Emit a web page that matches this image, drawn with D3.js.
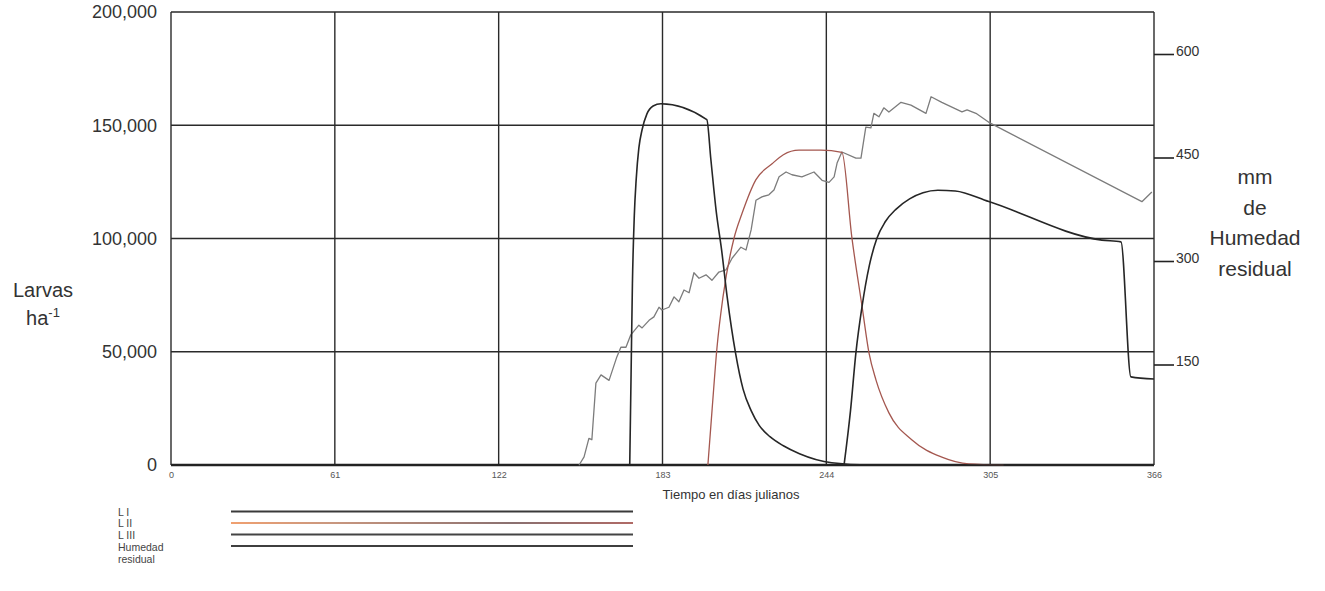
<!DOCTYPE html>
<html>
<head>
<meta charset="utf-8">
<script src="https://cdn.jsdelivr.net/npm/d3@7/dist/d3.min.js"></script>
<style>
  html, body { margin: 0; padding: 0; background: #fff; }
  svg { display: block; font-family: "Liberation Sans", Arial, sans-serif; }
</style>
</head>
<body>
<svg id="chart" width="1325" height="591"></svg>
<script>
// Julian-day ticks and axis labels
const dayTicks = [0, 61, 122, 183, 244, 305, 366];
const larvaTicks = [0, 50000, 100000, 150000, 200000];
const moistureTicks = [150, 300, 450, 600];

// Larval stage I (larvae per hectare by Julian day)
const larvaeL1 = [
  [170.8, 0], [171.3, 40000], [171.8, 80000], [172.5, 110000], [173.2, 126000],
  [174.2, 140000], [175.4, 148000], [177.2, 155000], [179.5, 158500], [182.4, 159500],
  [199.5, 152500], [201, 135000], [203, 112000], [205, 95000], [207.1, 74000],
  [210.2, 49400], [213, 33500], [216, 24000], [219, 17500], [223, 12500],
  [228, 8500], [234, 5000], [246, 1000], [260, 0], [366, 0]
];

// Larval stage II
const larvaeL2 = [
  [199.9, 0], [201.5, 25000], [203.3, 52000], [205.5, 74000], [209.6, 100000],
  [212.6, 111000], [217.8, 126000], [223.8, 133000], [228, 137000], [233.8, 139000],
  [242, 139000], [249.8, 138000], [253.5, 100500], [257.3, 70000], [259.9, 49400],
  [262.5, 37500], [267.3, 23000], [275.9, 11000], [287, 3500], [297, 500], [310, 0]
];

// Larval stage III
const larvaeL3 = [
  [250.6, 0], [253, 24000], [255, 49400], [257.3, 70000], [260, 88000],
  [262.8, 100000], [266, 107500], [270, 113000], [275, 117500], [280, 120200],
  [285.5, 121300], [292, 121000], [304.5, 116300], [346.6, 99300], [353.7, 98500],
  [357.4, 38900], [366, 38000]
];

// Residual soil moisture (mm)
const residualMoisture = [
  [151.9, 4], [153.8, 16], [155.6, 43], [156.7, 41], [158.2, 123], [160.1, 135],
  [163.1, 127], [166.0, 161], [167.5, 175], [169.4, 175], [171.2, 193], [174.2, 207],
  [175.4, 203], [178.0, 214], [179.8, 219], [181.7, 233], [182.8, 229], [185.4, 233],
  [187.3, 248], [189.1, 241], [191.0, 258], [192.9, 254], [194.7, 283], [196.6, 275],
  [199.2, 280], [201.4, 272], [204.0, 284], [206.6, 287], [208.9, 304], [212.2, 320],
  [214.1, 316], [216.0, 345], [217.8, 388], [220.0, 393], [222.6, 396], [224.5, 403],
  [226.4, 422], [229.0, 429], [231.2, 425], [234.9, 422], [239.4, 429], [242.4, 417],
  [245.0, 414], [246.9, 422], [248.0, 442], [249.8, 458], [255.0, 449], [256.9, 449],
  [258.7, 494], [260.6, 493], [261.7, 514], [263.6, 509], [265.4, 522], [267.3, 516],
  [271.8, 530], [275.5, 526], [281.1, 514], [283.0, 538], [287.0, 530], [294.5, 516],
  [296.4, 519], [299.7, 514], [304.5, 501], [361.5, 386], [365.2, 400]
];

const legendLabels = ["L I", "L II", "L III", "Humedad", "residual"];

const svg = d3.select("#chart");

const plot = { left: 171, right: 1154, top: 12, bottom: 465 };

const x = d3.scaleLinear().domain([0, 366]).range([plot.left, plot.right]);
const y = d3.scaleLinear().domain([0, 200000]).range([plot.bottom, plot.top]);
const yMoist = d3.scaleLinear().domain([0, 600]).range([468, 54]);

const gridColor = "#2a2a2a";

// Horizontal grid lines
svg.append("g")
  .selectAll("line")
  .data(larvaTicks)
  .join("line")
  .attr("x1", plot.left).attr("x2", plot.right)
  .attr("y1", d => y(d)).attr("y2", d => y(d))
  .attr("stroke", gridColor).attr("stroke-width", 1.4);

// Vertical grid lines
svg.append("g")
  .selectAll("line")
  .data(dayTicks)
  .join("line")
  .attr("x1", d => x(d)).attr("x2", d => x(d))
  .attr("y1", plot.top).attr("y2", plot.bottom)
  .attr("stroke", gridColor).attr("stroke-width", 1.4);

// Heavier baseline
svg.append("line")
  .attr("x1", plot.left).attr("x2", plot.right)
  .attr("y1", plot.bottom).attr("y2", plot.bottom)
  .attr("stroke", "#222").attr("stroke-width", 2.4);

// Left axis labels
const leftAxis = d3.axisLeft(y)
  .tickValues(larvaTicks)
  .tickFormat(d3.format(","))
  .tickSize(0)
  .tickPadding(14);
const gLeft = svg.append("g").attr("transform", `translate(${plot.left},0)`).call(leftAxis);
gLeft.select(".domain").remove();
gLeft.selectAll("text")
  .attr("font-size", 18)
  .attr("fill", "#333")
  .attr("font-family", "Liberation Sans, Arial, sans-serif");

// Bottom axis labels
const bottomAxis = d3.axisBottom(x).tickValues(dayTicks).tickSize(0).tickPadding(7);
const gBottom = svg.append("g").attr("transform", `translate(0,${plot.bottom})`).call(bottomAxis);
gBottom.select(".domain").remove();
gBottom.selectAll("text")
  .attr("font-size", 9)
  .attr("fill", "#555")
  .attr("font-family", "Liberation Sans, Arial, sans-serif");

// Right axis (residual moisture)
const rightAxis = d3.axisRight(yMoist).tickValues(moistureTicks).tickSize(20).tickPadding(2);
const gRight = svg.append("g").attr("transform", `translate(${plot.right},0)`).call(rightAxis);
gRight.select(".domain").remove();
gRight.selectAll("line").attr("stroke", "#222").attr("stroke-width", 1.6);
gRight.selectAll("text")
  .attr("font-size", 14)
  .attr("fill", "#333")
  .attr("dy", "0.1em")
  .attr("font-family", "Liberation Sans, Arial, sans-serif");

// Series lines
const larvaLine = d3.line().x(d => x(d[0])).y(d => y(d[1])).curve(d3.curveMonotoneX);
const moistLine = d3.line().x(d => x(d[0])).y(d => yMoist(d[1]));

svg.append("path").datum(residualMoisture)
  .attr("d", moistLine)
  .attr("fill", "none").attr("stroke", "#7c7c7c").attr("stroke-width", 1.3)
  .attr("stroke-linejoin", "round");

svg.append("path").datum(larvaeL2)
  .attr("d", larvaLine)
  .attr("fill", "none").attr("stroke", "#a4574f").attr("stroke-width", 1.3);

svg.append("path").datum(larvaeL1)
  .attr("d", larvaLine)
  .attr("fill", "none").attr("stroke", "#262626").attr("stroke-width", 1.6);

svg.append("path").datum(larvaeL3)
  .attr("d", larvaLine)
  .attr("fill", "none").attr("stroke", "#262626").attr("stroke-width", 1.6);

// Axis titles
svg.append("text")
  .attr("x", 43).attr("y", 297)
  .attr("text-anchor", "middle")
  .attr("font-size", 20).attr("fill", "#333")
  .text("Larvas");
const ha = svg.append("text")
  .attr("x", 43).attr("y", 325)
  .attr("text-anchor", "middle")
  .attr("font-size", 20).attr("fill", "#333");
ha.append("tspan").text("ha");
ha.append("tspan").attr("dy", -8).attr("font-size", 13).text("-1");

const rightTitleLines = ["mm", "de", "Humedad", "residual"];
svg.append("g")
  .selectAll("text")
  .data(rightTitleLines)
  .join("text")
  .attr("x", 1255)
  .attr("y", (d, i) => 184 + i * 30.5)
  .attr("text-anchor", "middle")
  .attr("font-size", 21).attr("fill", "#333")
  .text(d => d);

svg.append("text")
  .attr("x", 731).attr("y", 499)
  .attr("text-anchor", "middle")
  .attr("font-size", 13).attr("fill", "#333")
  .text("Tiempo en días julianos");

// Legend
const legendX0 = 231, legendX1 = 633;
const defs = svg.append("defs");
const grad = defs.append("linearGradient").attr("id", "l2Stroke")
  .attr("gradientUnits", "userSpaceOnUse")
  .attr("x1", legendX0).attr("x2", legendX1)
  .attr("y1", 0).attr("y2", 0);
grad.append("stop").attr("offset", "0%").attr("stop-color", "#f0a070");
grad.append("stop").attr("offset", "25%").attr("stop-color", "#c9977f");
grad.append("stop").attr("offset", "70%").attr("stop-color", "#8a7070");
grad.append("stop").attr("offset", "100%").attr("stop-color", "#b06a66");

const legendStrokes = ["#3a3a3a", "url(#l2Stroke)", "#444", "#3f3f3f"];
const legendRowY = [511.5, 523, 534.5, 546];

svg.append("g")
  .selectAll("line")
  .data(legendStrokes)
  .join("line")
  .attr("x1", legendX0).attr("x2", legendX1)
  .attr("y1", (d, i) => legendRowY[i]).attr("y2", (d, i) => legendRowY[i])
  .attr("stroke", d => d).attr("stroke-width", 1.8);

svg.append("g")
  .selectAll("text")
  .data(legendLabels)
  .join("text")
  .attr("x", 118)
  .attr("y", (d, i) => 515.5 + i * 11.8)
  .attr("font-size", 10.5).attr("fill", "#444")
  .text(d => d);
</script>
</body>
</html>
